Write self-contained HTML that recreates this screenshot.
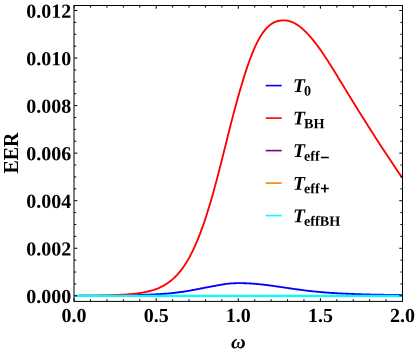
<!DOCTYPE html>
<html><head><meta charset="utf-8"><title>EER</title>
<style>
html,body{margin:0;padding:0;background:#fff;}
body{width:416px;height:353px;overflow:hidden;}
svg{display:block;will-change:transform;}
text{font-family:"Liberation Serif",serif;font-weight:bold;fill:#000;}
</style></head><body>
<svg width="416" height="353" viewBox="0 0 416 353">
<rect width="416" height="353" fill="#fff"/>
<defs><clipPath id="c"><rect x="74.1" y="5.5" width="328.4" height="295.9"/></clipPath></defs>
<g clip-path="url(#c)" fill="none" stroke-linejoin="round">
<path d="M74.1,295.80 L75.1,295.80 L76.1,295.80 L77.1,295.80 L78.1,295.80 L79.1,295.79 L80.1,295.79 L81.1,295.79 L82.1,295.79 L83.1,295.78 L84.1,295.78 L85.1,295.77 L86.1,295.77 L87.1,295.77 L88.1,295.76 L89.1,295.76 L90.1,295.75 L91.1,295.74 L92.1,295.74 L93.1,295.73 L94.1,295.72 L95.1,295.72 L96.1,295.71 L97.1,295.70 L98.1,295.70 L99.1,295.69 L100.1,295.68 L101.1,295.67 L102.1,295.67 L103.1,295.66 L104.1,295.65 L105.1,295.64 L106.1,295.63 L107.1,295.62 L108.1,295.62 L109.1,295.61 L110.1,295.60 L111.1,295.59 L112.1,295.58 L113.1,295.57 L114.1,295.55 L115.1,295.54 L116.1,295.52 L117.1,295.50 L118.1,295.49 L119.1,295.47 L120.1,295.45 L121.1,295.43 L122.1,295.41 L123.1,295.39 L124.1,295.37 L125.1,295.35 L126.1,295.33 L127.1,295.31 L128.1,295.29 L129.1,295.27 L130.1,295.25 L131.1,295.22 L132.1,295.20 L133.1,295.17 L134.1,295.15 L135.1,295.12 L136.1,295.09 L137.1,295.05 L138.1,295.02 L139.1,294.99 L140.1,294.95 L141.1,294.91 L142.1,294.88 L143.1,294.84 L144.1,294.80 L145.1,294.76 L146.1,294.72 L147.1,294.68 L148.1,294.64 L149.1,294.60 L150.1,294.56 L151.1,294.52 L152.1,294.48 L153.1,294.43 L154.1,294.39 L155.1,294.34 L156.1,294.29 L157.1,294.24 L158.1,294.19 L159.1,294.13 L160.1,294.07 L161.1,294.01 L162.1,293.94 L163.1,293.86 L164.1,293.79 L165.1,293.71 L166.1,293.63 L167.1,293.55 L168.1,293.47 L169.1,293.39 L170.1,293.30 L171.1,293.21 L172.1,293.11 L173.1,293.00 L174.1,292.89 L175.1,292.78 L176.1,292.67 L177.1,292.54 L178.1,292.42 L179.1,292.29 L180.1,292.15 L181.1,292.01 L182.1,291.86 L183.1,291.72 L184.1,291.57 L185.1,291.41 L186.1,291.25 L187.1,291.09 L188.1,290.92 L189.1,290.75 L190.1,290.57 L191.1,290.39 L192.1,290.20 L193.1,290.02 L194.1,289.83 L195.1,289.64 L196.1,289.45 L197.1,289.26 L198.1,289.07 L199.1,288.87 L200.1,288.67 L201.1,288.47 L202.1,288.27 L203.1,288.07 L204.1,287.87 L205.1,287.68 L206.1,287.49 L207.1,287.30 L208.1,287.12 L209.1,286.94 L210.1,286.76 L211.1,286.58 L212.1,286.40 L213.1,286.20 L214.1,286.01 L215.1,285.81 L216.1,285.62 L217.1,285.43 L218.1,285.24 L219.1,285.06 L220.1,284.90 L221.1,284.73 L222.1,284.57 L223.1,284.40 L224.1,284.24 L225.1,284.09 L226.1,283.95 L227.1,283.81 L228.1,283.69 L229.1,283.57 L230.1,283.48 L231.1,283.40 L232.1,283.34 L233.1,283.30 L234.1,283.26 L235.1,283.22 L236.1,283.20 L237.1,283.18 L238.1,283.16 L239.1,283.15 L240.1,283.15 L241.1,283.16 L242.1,283.17 L243.1,283.19 L244.1,283.21 L245.1,283.24 L246.1,283.27 L247.1,283.31 L248.1,283.36 L249.1,283.41 L250.1,283.47 L251.1,283.53 L252.1,283.60 L253.1,283.67 L254.1,283.75 L255.1,283.83 L256.1,283.92 L257.1,284.01 L258.1,284.10 L259.1,284.20 L260.1,284.30 L261.1,284.41 L262.1,284.52 L263.1,284.63 L264.1,284.75 L265.1,284.86 L266.1,284.99 L267.1,285.11 L268.1,285.24 L269.1,285.37 L270.1,285.50 L271.1,285.63 L272.1,285.77 L273.1,285.91 L274.1,286.05 L275.1,286.19 L276.1,286.33 L277.1,286.47 L278.1,286.62 L279.1,286.76 L280.1,286.91 L281.1,287.05 L282.1,287.20 L283.1,287.35 L284.1,287.49 L285.1,287.64 L286.1,287.79 L287.1,287.93 L288.1,288.08 L289.1,288.23 L290.1,288.37 L291.1,288.52 L292.1,288.66 L293.1,288.81 L294.1,288.95 L295.1,289.09 L296.1,289.23 L297.1,289.37 L298.1,289.51 L299.1,289.65 L300.1,289.79 L301.1,289.92 L302.1,290.05 L303.1,290.18 L304.1,290.31 L305.1,290.44 L306.1,290.56 L307.1,290.68 L308.1,290.80 L309.1,290.91 L310.1,291.03 L311.1,291.14 L312.1,291.24 L313.1,291.35 L314.1,291.45 L315.1,291.56 L316.1,291.66 L317.1,291.75 L318.1,291.85 L319.1,291.94 L320.1,292.03 L321.1,292.12 L322.1,292.21 L323.1,292.29 L324.1,292.38 L325.1,292.46 L326.1,292.54 L327.1,292.61 L328.1,292.69 L329.1,292.76 L330.1,292.84 L331.1,292.91 L332.1,292.97 L333.1,293.04 L334.1,293.10 L335.1,293.16 L336.1,293.22 L337.1,293.27 L338.1,293.33 L339.1,293.38 L340.1,293.43 L341.1,293.48 L342.1,293.53 L343.1,293.57 L344.1,293.62 L345.1,293.66 L346.1,293.71 L347.1,293.75 L348.1,293.79 L349.1,293.84 L350.1,293.88 L351.1,293.92 L352.1,293.96 L353.1,294.00 L354.1,294.04 L355.1,294.08 L356.1,294.12 L357.1,294.15 L358.1,294.19 L359.1,294.22 L360.1,294.25 L361.1,294.29 L362.1,294.32 L363.1,294.35 L364.1,294.37 L365.1,294.40 L366.1,294.43 L367.1,294.45 L368.1,294.48 L369.1,294.50 L370.1,294.53 L371.1,294.55 L372.1,294.57 L373.1,294.60 L374.1,294.62 L375.1,294.64 L376.1,294.66 L377.1,294.68 L378.1,294.70 L379.1,294.72 L380.1,294.74 L381.1,294.76 L382.1,294.77 L383.1,294.79 L384.1,294.81 L385.1,294.82 L386.1,294.84 L387.1,294.86 L388.1,294.87 L389.1,294.89 L390.1,294.90 L391.1,294.92 L392.1,294.93 L393.1,294.94 L394.1,294.96 L395.1,294.97 L396.1,294.98 L397.1,295.00 L398.1,295.01 L399.1,295.02 L400.1,295.04 L401.1,295.05 L402.1,295.06" stroke="#0000ff" stroke-width="1.85"/>
<path d="M74.1,295.80 L75.1,295.80 L76.1,295.80 L77.1,295.80 L78.1,295.80 L79.1,295.80 L80.1,295.79 L81.1,295.79 L82.1,295.79 L83.1,295.78 L84.1,295.78 L85.1,295.77 L86.1,295.76 L87.1,295.75 L88.1,295.74 L89.1,295.73 L90.1,295.72 L91.1,295.71 L92.1,295.70 L93.1,295.68 L94.1,295.67 L95.1,295.65 L96.1,295.64 L97.1,295.62 L98.1,295.60 L99.1,295.58 L100.1,295.56 L101.1,295.53 L102.1,295.51 L103.1,295.48 L104.1,295.45 L105.1,295.43 L106.1,295.40 L107.1,295.37 L108.1,295.33 L109.1,295.30 L110.1,295.26 L111.1,295.23 L112.1,295.19 L113.1,295.15 L114.1,295.11 L115.1,295.07 L116.1,295.02 L117.1,294.98 L118.1,294.93 L119.1,294.88 L120.1,294.83 L121.1,294.78 L122.1,294.73 L123.1,294.67 L124.1,294.61 L125.1,294.55 L126.1,294.48 L127.1,294.42 L128.1,294.34 L129.1,294.26 L130.1,294.18 L131.1,294.09 L132.1,294.00 L133.1,293.90 L134.1,293.80 L135.1,293.68 L136.1,293.57 L137.1,293.44 L138.1,293.31 L139.1,293.17 L140.1,293.03 L141.1,292.87 L142.1,292.70 L143.1,292.53 L144.1,292.34 L145.1,292.15 L146.1,291.94 L147.1,291.72 L148.1,291.49 L149.1,291.24 L150.1,290.98 L151.1,290.71 L152.1,290.42 L153.1,290.11 L154.1,289.79 L155.1,289.44 L156.1,289.08 L157.1,288.70 L158.1,288.29 L159.1,287.87 L160.1,287.42 L161.1,286.94 L162.1,286.44 L163.1,285.92 L164.1,285.36 L165.1,284.78 L166.1,284.16 L167.1,283.51 L168.1,282.83 L169.1,282.11 L170.1,281.36 L171.1,280.56 L172.1,279.73 L173.1,278.85 L174.1,277.94 L175.1,276.97 L176.1,275.96 L177.1,274.91 L178.1,273.80 L179.1,272.64 L180.1,271.43 L181.1,270.16 L182.1,268.83 L183.1,267.45 L184.1,266.01 L185.1,264.50 L186.1,262.93 L187.1,261.30 L188.1,259.60 L189.1,257.83 L190.1,255.99 L191.1,254.08 L192.1,252.11 L193.1,250.05 L194.1,247.93 L195.1,245.73 L196.1,243.45 L197.1,241.10 L198.1,238.68 L199.1,236.17 L200.1,233.59 L201.1,230.93 L202.1,228.19 L203.1,225.37 L204.1,222.48 L205.1,219.51 L206.1,216.46 L207.1,213.34 L208.1,210.15 L209.1,206.88 L210.1,203.54 L211.1,200.14 L212.1,196.66 L213.1,193.13 L214.1,189.53 L215.1,185.87 L216.1,182.16 L217.1,178.40 L218.1,174.59 L219.1,170.74 L220.1,166.85 L221.1,162.92 L222.1,158.97 L223.1,155.00 L224.1,151.00 L225.1,147.00 L226.1,142.99 L227.1,138.98 L228.1,134.97 L229.1,130.97 L230.1,126.98 L231.1,123.05 L232.1,119.18 L233.1,115.37 L234.1,111.62 L235.1,107.92 L236.1,104.25 L237.1,100.61 L238.1,97.00 L239.1,93.44 L240.1,89.94 L241.1,86.51 L242.1,83.15 L243.1,79.86 L244.1,76.64 L245.1,73.49 L246.1,70.41 L247.1,67.41 L248.1,64.50 L249.1,61.69 L250.1,58.97 L251.1,56.35 L252.1,53.82 L253.1,51.38 L254.1,49.02 L255.1,46.74 L256.1,44.57 L257.1,42.51 L258.1,40.57 L259.1,38.75 L260.1,37.02 L261.1,35.39 L262.1,33.86 L263.1,32.42 L264.1,31.08 L265.1,29.83 L266.1,28.67 L267.1,27.60 L268.1,26.62 L269.1,25.72 L270.1,24.90 L271.1,24.17 L272.1,23.50 L273.1,22.92 L274.1,22.40 L275.1,21.95 L276.1,21.56 L277.1,21.24 L278.1,20.98 L279.1,20.77 L280.1,20.62 L281.1,20.51 L282.1,20.43 L283.1,20.39 L284.1,20.40 L285.1,20.45 L286.1,20.54 L287.1,20.68 L288.1,20.86 L289.1,21.08 L290.1,21.35 L291.1,21.67 L292.1,22.06 L293.1,22.50 L294.1,22.98 L295.1,23.51 L296.1,24.09 L297.1,24.71 L298.1,25.38 L299.1,26.09 L300.1,26.86 L301.1,27.66 L302.1,28.51 L303.1,29.39 L304.1,30.31 L305.1,31.26 L306.1,32.25 L307.1,33.28 L308.1,34.34 L309.1,35.43 L310.1,36.56 L311.1,37.71 L312.1,38.90 L313.1,40.12 L314.1,41.37 L315.1,42.64 L316.1,43.95 L317.1,45.28 L318.1,46.63 L319.1,48.01 L320.1,49.41 L321.1,50.84 L322.1,52.28 L323.1,53.75 L324.1,55.23 L325.1,56.73 L326.1,58.25 L327.1,59.78 L328.1,61.33 L329.1,62.89 L330.1,64.46 L331.1,66.05 L332.1,67.64 L333.1,69.24 L334.1,70.86 L335.1,72.48 L336.1,74.10 L337.1,75.73 L338.1,77.37 L339.1,79.01 L340.1,80.65 L341.1,82.30 L342.1,83.94 L343.1,85.59 L344.1,87.24 L345.1,88.88 L346.1,90.52 L347.1,92.17 L348.1,93.80 L349.1,95.44 L350.1,97.07 L351.1,98.70 L352.1,100.32 L353.1,101.95 L354.1,103.57 L355.1,105.18 L356.1,106.79 L357.1,108.41 L358.1,110.01 L359.1,111.62 L360.1,113.22 L361.1,114.82 L362.1,116.41 L363.1,118.00 L364.1,119.59 L365.1,121.18 L366.1,122.77 L367.1,124.35 L368.1,125.93 L369.1,127.50 L370.1,129.07 L371.1,130.64 L372.1,132.21 L373.1,133.77 L374.1,135.33 L375.1,136.89 L376.1,138.45 L377.1,140.00 L378.1,141.54 L379.1,143.09 L380.1,144.63 L381.1,146.17 L382.1,147.70 L383.1,149.23 L384.1,150.76 L385.1,152.28 L386.1,153.80 L387.1,155.32 L388.1,156.83 L389.1,158.33 L390.1,159.84 L391.1,161.34 L392.1,162.83 L393.1,164.32 L394.1,165.81 L395.1,167.29 L396.1,168.76 L397.1,170.24 L398.1,171.70 L399.1,173.17 L400.1,174.62 L401.1,176.07 L402.1,177.52" stroke="#ff0000" stroke-width="1.85"/>
<path d="M74.1,295.8H402.5" stroke="#800080" stroke-width="1.6"/>
<path d="M74.1,295.8H402.5" stroke="#ff8000" stroke-width="1.6"/>
<path d="M74.1,295.8H402.5" stroke="#00ffff" stroke-width="2.3"/>
</g>
<rect x="74.0" y="5.5" width="328.50" height="295.9" fill="none" stroke="#000" stroke-width="1"/>
<path d="M74.10,301.4v-3.2M74.10,5.5v3.2M90.52,301.4v-2.1M90.52,5.5v2.1M106.94,301.4v-2.1M106.94,5.5v2.1M123.36,301.4v-2.1M123.36,5.5v2.1M139.78,301.4v-2.1M139.78,5.5v2.1M156.20,301.4v-3.2M156.20,5.5v3.2M172.62,301.4v-2.1M172.62,5.5v2.1M189.04,301.4v-2.1M189.04,5.5v2.1M205.46,301.4v-2.1M205.46,5.5v2.1M221.88,301.4v-2.1M221.88,5.5v2.1M238.30,301.4v-3.2M238.30,5.5v3.2M254.72,301.4v-2.1M254.72,5.5v2.1M271.14,301.4v-2.1M271.14,5.5v2.1M287.56,301.4v-2.1M287.56,5.5v2.1M303.98,301.4v-2.1M303.98,5.5v2.1M320.40,301.4v-3.2M320.40,5.5v3.2M336.82,301.4v-2.1M336.82,5.5v2.1M353.24,301.4v-2.1M353.24,5.5v2.1M369.66,301.4v-2.1M369.66,5.5v2.1M386.08,301.4v-2.1M386.08,5.5v2.1M402.50,301.4v-3.2M402.50,5.5v3.2M74.1,295.80h3.2M402.5,295.80h-3.2M74.1,283.91h2.1M402.5,283.91h-2.1M74.1,272.03h2.1M402.5,272.03h-2.1M74.1,260.14h2.1M402.5,260.14h-2.1M74.1,248.25h3.2M402.5,248.25h-3.2M74.1,236.36h2.1M402.5,236.36h-2.1M74.1,224.48h2.1M402.5,224.48h-2.1M74.1,212.59h2.1M402.5,212.59h-2.1M74.1,200.70h3.2M402.5,200.70h-3.2M74.1,188.81h2.1M402.5,188.81h-2.1M74.1,176.93h2.1M402.5,176.93h-2.1M74.1,165.04h2.1M402.5,165.04h-2.1M74.1,153.15h3.2M402.5,153.15h-3.2M74.1,141.26h2.1M402.5,141.26h-2.1M74.1,129.38h2.1M402.5,129.38h-2.1M74.1,117.49h2.1M402.5,117.49h-2.1M74.1,105.60h3.2M402.5,105.60h-3.2M74.1,93.71h2.1M402.5,93.71h-2.1M74.1,81.83h2.1M402.5,81.83h-2.1M74.1,69.94h2.1M402.5,69.94h-2.1M74.1,58.05h3.2M402.5,58.05h-3.2M74.1,46.16h2.1M402.5,46.16h-2.1M74.1,34.28h2.1M402.5,34.28h-2.1M74.1,22.39h2.1M402.5,22.39h-2.1M74.1,10.50h3.2M402.5,10.50h-3.2" stroke="#000" stroke-width="1" fill="none"/>
<g font-size="20.0">
<text transform="matrix(1,0.001,0,1,71.2,303.00)" text-anchor="end">0.000</text>
<text transform="matrix(1,0.001,0,1,71.2,255.45)" text-anchor="end">0.002</text>
<text transform="matrix(1,0.001,0,1,71.2,207.90)" text-anchor="end">0.004</text>
<text transform="matrix(1,0.001,0,1,71.2,160.35)" text-anchor="end">0.006</text>
<text transform="matrix(1,0.001,0,1,71.2,112.80)" text-anchor="end">0.008</text>
<text transform="matrix(1,0.001,0,1,71.2,65.25)" text-anchor="end">0.010</text>
<text transform="matrix(1,0.001,0,1,71.2,17.70)" text-anchor="end">0.012</text>
<text transform="matrix(1,0.001,0,1,74.10,322.1)" text-anchor="middle">0.0</text>
<text transform="matrix(1,0.001,0,1,156.20,322.1)" text-anchor="middle">0.5</text>
<text transform="matrix(1,0.001,0,1,238.30,322.1)" text-anchor="middle">1.0</text>
<text transform="matrix(1,0.001,0,1,320.40,322.1)" text-anchor="middle">1.5</text>
<text transform="matrix(1,0.001,0,1,402.50,322.1)" text-anchor="middle">2.0</text>
</g>
<text transform="translate(18.1,153.0) rotate(-90)" text-anchor="middle" font-size="20.0">EER</text>
<text transform="matrix(1.04,0.001,0,1,238.3,348.3)" text-anchor="middle" font-size="19.5" font-style="italic">ω</text>
<path d="M265.7,85.60H281.7" stroke="#0000ff" stroke-width="1.6" fill="none"/>
<text transform="matrix(1,0.001,0,1,293.0,92.00)" font-style="italic" font-size="19.6">T<tspan font-style="normal" font-size="14.2" dy="3.6" dx="-1.0">0</tspan></text>
<path d="M265.7,118.10H281.7" stroke="#ff0000" stroke-width="1.6" fill="none"/>
<text transform="matrix(1,0.001,0,1,293.0,124.55)" font-style="italic" font-size="19.6">T<tspan font-style="normal" font-size="14.2" dy="3.6" dx="-1.0">BH</tspan></text>
<path d="M265.7,150.60H281.7" stroke="#800080" stroke-width="1.6" fill="none"/>
<text transform="matrix(1,0.001,0,1,293.0,157.10)" font-style="italic" font-size="19.6">T<tspan font-style="normal" font-size="14.2" dy="3.6" dx="-1.0">eff<tspan font-family="Liberation Sans" font-size="15.8" dy="1.9" dx="0.5">−</tspan></tspan></text>
<path d="M265.7,183.10H281.7" stroke="#ff8000" stroke-width="1.6" fill="none"/>
<text transform="matrix(1,0.001,0,1,293.0,189.65)" font-style="italic" font-size="19.6">T<tspan font-style="normal" font-size="14.2" dy="3.6" dx="-1.0">eff<tspan font-family="Liberation Sans" font-size="15.8" dy="0.5" dx="0.5">+</tspan></tspan></text>
<path d="M265.7,215.60H281.7" stroke="#00ffff" stroke-width="1.6" fill="none"/>
<text transform="matrix(1,0.001,0,1,293.0,222.20)" font-style="italic" font-size="19.6">T<tspan font-style="normal" font-size="14.2" dy="3.6" dx="-1.0">effBH</tspan></text>
</svg>
</body></html>
